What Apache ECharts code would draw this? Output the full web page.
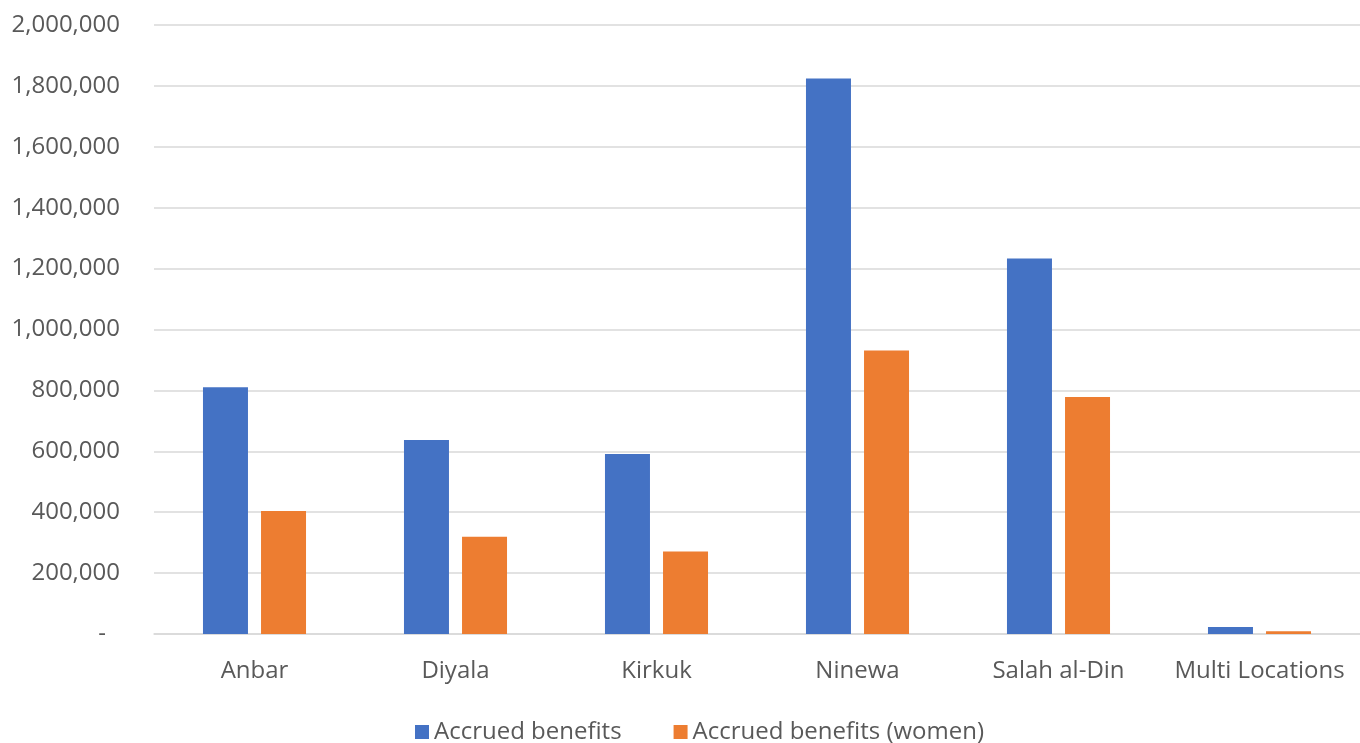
<!DOCTYPE html>
<html><head><meta charset="utf-8">
<script src="https://cdn.jsdelivr.net/npm/echarts@6/dist/echarts.min.js"></script>
<style>html,body{margin:0;padding:0;background:#fff}#c{width:1360px;height:743px}</style>
</head><body><div id="c"></div>
<script>
const categories = ['Anbar', 'Diyala', 'Kirkuk', 'Ninewa', 'Salah al-Din', 'Multi Locations'];
const accrued = [810000, 637000, 591000, 1824000, 1233000, 23000];
const accruedWomen = [404000, 319000, 271000, 931000, 778000, 9000];
const seriesNames = ['Accrued benefits', 'Accrued benefits (women)'];

const font = '"Open Sans", sans-serif';
const fs = 24;
const chart = echarts.init(document.getElementById('c'));
chart.setOption({
  animation: false,
  grid: { left: 154, right: 0, top: 25, bottom: 109, containLabel: false },
  legend: {
    left: 410, top: 715,
    itemWidth: 14, itemHeight: 14, itemGap: 52,
    icon: 'rect',
    textStyle: { color: '#595959', fontSize: fs, fontFamily: font, padding: [0, 0, 0, 0] },
    data: seriesNames
  },
  xAxis: {
    type: 'category', data: categories,
    axisLine: { lineStyle: { color: '#d9d9d9', width: 1.5 } },
    axisTick: { show: false },
    axisLabel: { color: '#595959', fontSize: fs, fontFamily: font, margin: 25, interval: 0 }
  },
  yAxis: {
    type: 'value', min: 0, max: 2000000, interval: 200000,
    axisLine: { show: false }, axisTick: { show: false },
    splitLine: { lineStyle: { color: '#d9d9d9', width: 1.5 } },
    axisLabel: {
      color: '#595959', fontSize: fs, fontFamily: font, margin: 34,
      formatter: v => v === 0 ? '{d|-}' : v.toLocaleString('en-US'),
      rich: { d: { color: '#595959', fontSize: fs, fontFamily: font, padding: [0, 14, 0, 0] } }
    }
  },
  series: [
    { name: seriesNames[0], type: 'bar', data: accrued, itemStyle: { color: '#4472c4' },
      barWidth: 45, barGap: '29%' },
    { name: seriesNames[1], type: 'bar', data: accruedWomen, itemStyle: { color: '#ed7d31' },
      barWidth: 45 }
  ]
});
</script></body></html>
